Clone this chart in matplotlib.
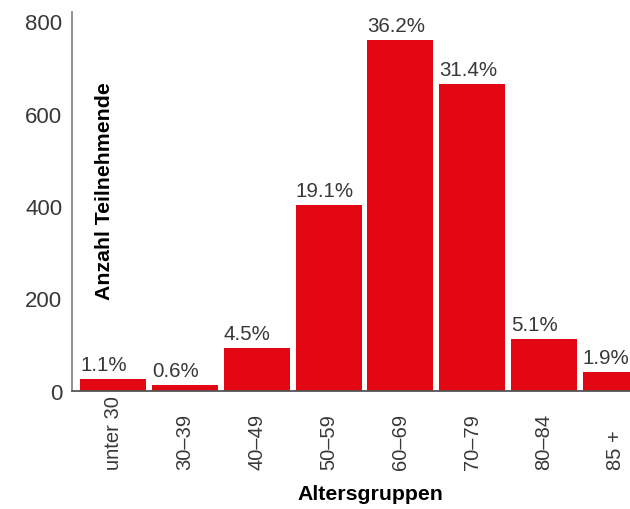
import matplotlib
matplotlib.use("Agg")
import matplotlib.pyplot as plt

# age groups, participant counts and the printed share labels
groups = ["unter 30", "30–39", "40–49", "50–59", "60–69", "70–79", "80–84", "85 +"]
counts = [24, 12, 92, 401, 759, 663, 112, 40]
shares = ["1.1%", "0.6%", "4.5%", "19.1%", "36.2%", "31.4%", "5.1%", "1.9%"]
yticks = [0, 200, 400, 600, 800]

RED = "#e30613"
TEXT = "#383838"

plt.rcParams["font.family"] = ["Liberation Sans", "DejaVu Sans"]

fig = plt.figure(figsize=(6.3, 5.1), dpi=100)
ax = fig.add_axes([72 / 630, 1 - 391.5 / 510, 1 - 72 / 630, (391.5 - 13) / 510])

width = 0.92
xs = list(range(len(groups)))
ax.bar(xs, counts, width=width, color=RED, linewidth=0)

for x, c, s in zip(xs, counts, shares):
    ax.annotate(s, xy=(x - width / 2, c), xytext=(0, 5), textcoords="offset pixels",
                ha="left", va="bottom", fontsize=14.8, color=TEXT)

ax.set_xlim(-0.575, 7.2)
ax.set_ylim(0, 820)
ax.set_yticks(yticks)
ax.set_yticklabels([str(v) for v in yticks], fontsize=16, color=TEXT)
ax.tick_params(axis="y", length=0, pad=7)
ax.set_xticks([])

# rotated group labels, anchored at a common bottom line
for x, g in zip(xs, groups):
    ax.annotate(g, xy=(x, 0), xycoords=("data", "axes fraction"),
                xytext=(0, -79), textcoords="offset pixels",
                rotation=90, ha="center", va="bottom", fontsize=14.5, color=TEXT,
                annotation_clip=False)

for side in ["top", "right"]:
    ax.spines[side].set_visible(False)
ax.spines["left"].set_color("#888888")
ax.spines["left"].set_linewidth(1.3)
ax.spines["bottom"].set_color("#555555")
ax.spines["bottom"].set_linewidth(1.3)

fig.text(104 / 630, 1 - 191 / 510, "Anzahl Teilnehmende", rotation=90,
         ha="center", va="center", fontsize=15.3, fontweight="bold", color="black")
fig.text(370 / 630, 1 - 495 / 510, "Altersgruppen",
         ha="center", va="center", fontsize=15.3, fontweight="bold", color="black")

fig.savefig("out.png", dpi=100)
